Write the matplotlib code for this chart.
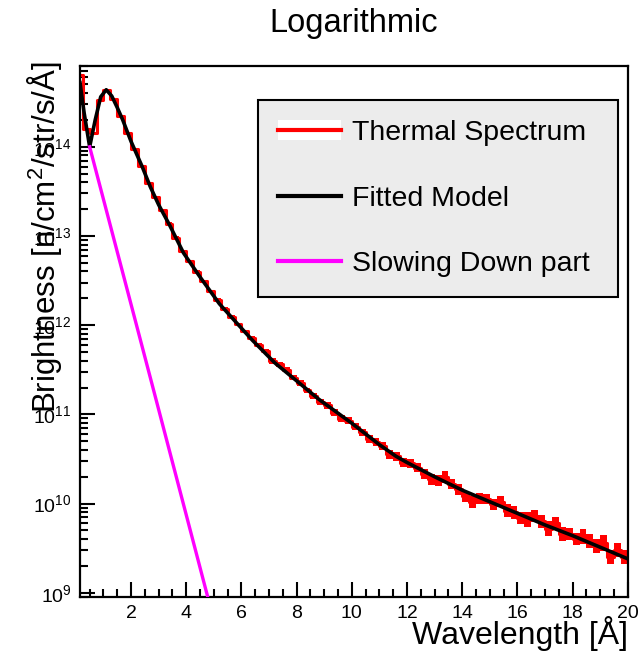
#!usr/bin/env python3
"""
Thermal spectrum with fitted model, log scale (ROOT-like look)
"""
import numpy as np
import matplotlib
matplotlib.use("Agg")
import matplotlib.pyplot as plt
from matplotlib.lines import Line2D
from matplotlib.patches import Patch
from matplotlib.ticker import LogLocator, MultipleLocator, LogFormatterSciNotation

plt.rcParams['font.family'] = ['Liberation Sans', 'DejaVu Sans']
plt.rcParams['mathtext.fontset'] = 'custom'
plt.rcParams['mathtext.rm'] = 'Liberation Sans'
plt.rcParams['mathtext.it'] = 'Liberation Sans:italic'

# histogram bins (bin width 0.25 A), values as log10 brightness
bin_edges = np.arange(0.0, 20.01, 0.25)
hist_log = [14.80, 14.20, 14.15, 14.52, 14.64, 14.54, 14.35, 14.16,
            13.97, 13.79, 13.59, 13.44, 13.29, 13.14, 12.98, 12.83,
            12.72, 12.60, 12.49, 12.38, 12.28, 12.18, 12.09, 12.01,
            11.93, 11.86, 11.78, 11.71, 11.60, 11.56, 11.50, 11.41,
            11.35, 11.27, 11.21, 11.14, 11.10, 11.02, 10.95, 10.93,
            10.86, 10.80, 10.72, 10.69, 10.64, 10.55, 10.53, 10.46,
            10.45, 10.40, 10.33, 10.27, 10.26, 10.30, 10.22, 10.16,
            10.08, 10.02, 10.06, 10.05, 9.99, 10.02, 9.92, 9.90,
            9.84, 9.82, 9.86, 9.80, 9.72, 9.78, 9.66, 9.66,
            9.60, 9.63, 9.58, 9.52, 9.56, 9.40, 9.48, 9.40]
hist_err = [0.01, 0.01, 0.01, 0.01, 0.01, 0.01, 0.01, 0.01,
            0.01, 0.01, 0.01, 0.01, 0.015, 0.015, 0.015, 0.015,
            0.015, 0.015, 0.015, 0.02, 0.02, 0.02, 0.02, 0.02,
            0.02, 0.02, 0.025, 0.025, 0.03, 0.03, 0.03, 0.03,
            0.03, 0.03, 0.035, 0.035, 0.035, 0.035, 0.04, 0.04,
            0.04, 0.04, 0.045, 0.045, 0.045, 0.05, 0.05, 0.05,
            0.05, 0.05, 0.06, 0.06, 0.06, 0.07, 0.06, 0.06,
            0.06, 0.07, 0.06, 0.06, 0.06, 0.06, 0.07, 0.07,
            0.07, 0.08, 0.07, 0.07, 0.08, 0.07, 0.08, 0.07,
            0.07, 0.08, 0.08, 0.08, 0.09, 0.08, 0.08, 0.08]

# fitted model
fit_lam = [0.15, 0.3, 0.5, 0.7, 0.9, 1.1, 1.3, 1.5, 1.7, 2.0, 2.4, 2.7,
           3.0, 3.4, 3.9, 4.5, 5.2, 5.9, 6.4, 7.2, 8.1, 8.8, 10.0, 11.0,
           11.6, 12.0, 13.0, 14.0, 15.0, 16.0, 17.0, 18.0, 19.0, 20.0]
fit_log = [14.72, 14.38, 14.0, 14.30, 14.56, 14.64, 14.57, 14.44, 14.30, 14.06,
           13.78, 13.55, 13.35, 13.12, 12.81, 12.54, 12.24, 12.0, 11.83, 11.58,
           11.35, 11.17, 10.90, 10.66, 10.53, 10.46, 10.30, 10.15, 10.02, 9.89,
           9.76, 9.64, 9.51, 9.38]

# slowing down part
slow_lam = [0.5, 2.75, 4.78, 5.0]
slow_log = [14.0, 11.35, 8.95, 8.70]


def main():
    fig = plt.figure(figsize=(6.4, 6.58), dpi=100)
    ax = fig.add_axes([0.125, 0.093, 0.856, 0.807])

    centers = 0.5 * (bin_edges[1:] + bin_edges[:-1])
    width = bin_edges[1] - bin_edges[0]
    vals = 10 ** np.array(hist_log)
    lo = 10 ** (np.array(hist_log) - np.array(hist_err))
    hi = 10 ** (np.array(hist_log) + np.array(hist_err))

    ax.bar(centers, hi - lo, bottom=lo, width=width, color="#ff0000",
           linewidth=0, zorder=2)
    ax.step(bin_edges, np.append(vals, vals[-1]), where="post",
            color="#ff0000", lw=2.2, zorder=2)

    ax.plot(fit_lam, 10 ** np.array(fit_log), color="black", lw=2.6, zorder=3)
    ax.plot(slow_lam, 10 ** np.array(slow_log), color="#ff00ff", lw=2.4, zorder=3)

    ax.set_yscale("log")
    ax.set_xlim(0.15, 20)
    ax.set_ylim(9.0e8, 8.1e14)

    ax.xaxis.set_major_locator(MultipleLocator(2))
    ax.xaxis.set_minor_locator(MultipleLocator(0.5))
    ax.yaxis.set_major_locator(LogLocator(base=10, numticks=20))
    ax.yaxis.set_minor_locator(LogLocator(base=10, subs=np.arange(2, 10), numticks=20))
    ax.yaxis.set_major_formatter(LogFormatterSciNotation())
    ax.yaxis.set_minor_formatter(plt.NullFormatter())

    ax.tick_params(which="both", direction="in", top=False, right=False,
                   width=1.5, labelsize=14, pad=6)
    ax.tick_params(which="major", length=11)
    ax.tick_params(which="minor", length=6)
    for sp in ax.spines.values():
        sp.set_linewidth(1.6)

    fig.text(0.553, 0.965, "Logarithmic", ha="center", va="center", fontsize=23.5)
    fig.text(0.981, 0.037, "Wavelength [Å]", ha="right", va="center", fontsize=23)
    fig.text(0.07, 0.906, r"Brightness [n/cm$^{2}$/str/s/Å]", rotation=90,
             ha="center", va="top", fontsize=22.5)

    handles = [(Patch(facecolor="white", edgecolor="none"),
                Line2D([], [], color="#ff0000", lw=3)),
               Line2D([], [], color="black", lw=3),
               Line2D([], [], color="#ff00ff", lw=3)]
    labels = ["Thermal Spectrum", "Fitted Model", "Slowing Down part"]
    leg = ax.legend(handles, labels, loc="upper left",
                    bbox_to_anchor=(0.325, 0.936, 0.657, 0.0), mode="expand",
                    fontsize=20.5, frameon=True, fancybox=False, framealpha=1,
                    facecolor="#ececec", edgecolor="black", handlelength=2.2,
                    handletextpad=0.4, labelspacing=1.4, borderpad=0.7,
                    borderaxespad=0)
    leg.get_frame().set_linewidth(1.5)

    fig.savefig("out.png", dpi=100)


if __name__ == "__main__":
    main()
